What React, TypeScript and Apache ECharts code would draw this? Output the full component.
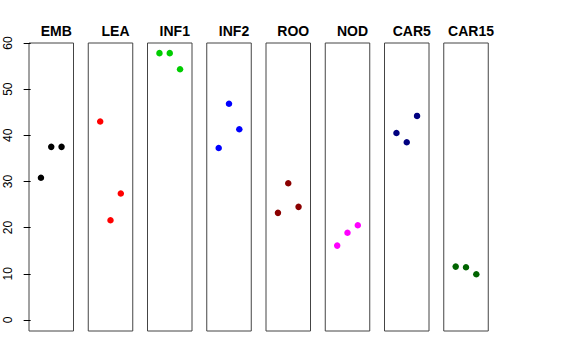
import React, { useEffect, useRef } from "react";
import * as echarts from "echarts";

const panels = ["EMB", "LEA", "INF1", "INF2", "ROO", "NOD", "CAR5", "CAR15"];
const colors = ["#000000", "#FF0000", "#00CD00", "#0000FF", "#8B0000", "#FF00FF", "#000080", "#006400"];
const values: number[][] = [
  [30.8, 37.5, 37.5],
  [43.0, 21.6, 27.4],
  [57.8, 57.8, 54.3],
  [37.25, 46.85, 41.3],
  [23.2, 29.6, 24.5],
  [16.1, 18.9, 20.5],
  [40.5, 38.5, 44.2],
  [11.55, 11.4, 9.9],
];
const yTicks = [0, 10, 20, 30, 40, 50, 60];

export default function App() {
  const ref = useRef<HTMLDivElement>(null);
  useEffect(() => {
    const chart = echarts.init(ref.current!, null, { renderer: "svg" });
    const left0 = 29;
    const pitch = 59.25;
    const w = 44.5;
    const grids: any[] = [];
    const xAxes: any[] = [];
    const yAxes: any[] = [];
    const series: any[] = [];
    const titles: any[] = [];
    panels.forEach((name, i) => {
      const l = left0 + pitch * i;
      grids.push({
        left: l,
        width: w,
        top: 43,
        bottom: 29,
        show: true,
        borderColor: "#444",
        borderWidth: 1,
        backgroundColor: "transparent",
      });
      xAxes.push({
        gridIndex: i,
        type: "value",
        min: -0.16,
        max: 4.16,
        show: false,
      });
      yAxes.push({
        gridIndex: i,
        type: "value",
        min: -2.4,
        max: 60,
        show: i === 0,
        axisLine: { show: false },
        splitLine: { show: false },
        axisTick: {
          show: true,
          length: 7,
          customValues: yTicks,
          lineStyle: { color: "#000" },
        },
        axisLabel: {
          show: true,
          customValues: yTicks,
          rotate: 90,
          margin: 15,
          fontSize: 12,
          color: "#000",
          fontFamily: "Liberation Sans, Arial, sans-serif",
        },
      });
      series.push({
        type: "scatter",
        xAxisIndex: i,
        yAxisIndex: i,
        symbolSize: 6.5,
        itemStyle: { color: colors[i], opacity: 1 },
        data: values[i].map((v, j) => [j + 1, v]),
      });
      titles.push({
        text: name,
        left: l + w / 2,
        top: 19,
        textAlign: "center",
        textStyle: {
          fontSize: 14,
          fontWeight: "bold",
          color: "#000",
          fontFamily: "Liberation Sans, Arial, sans-serif",
        },
      });
    });
    chart.setOption({
      animation: false,
      backgroundColor: "#fff",
      title: titles,
      grid: grids,
      xAxis: xAxes,
      yAxis: yAxes,
      series,
    });
    return () => chart.dispose();
  }, []);
  return <div ref={ref} style={{ width: 576, height: 360, position: "absolute", left: 0, top: 0 }} />;
}
